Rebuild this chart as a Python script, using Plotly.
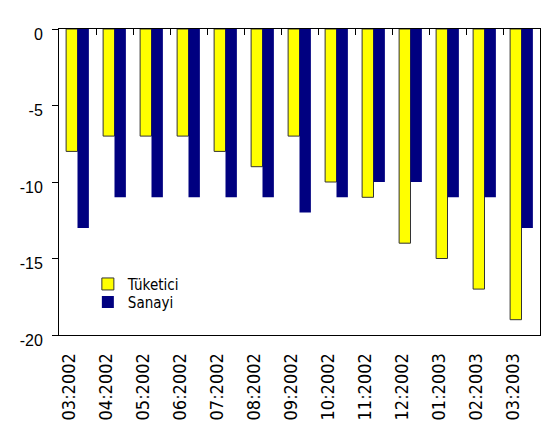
import plotly.graph_objects as go

categories = ["03:2002", "04:2002", "05:2002", "06:2002", "07:2002", "08:2002", "09:2002",
              "10:2002", "11:2002", "12:2002", "01:2003", "02:2003", "03:2003"]
tuketici = [-8, -7, -7, -7, -8, -9, -7, -10, -11, -14, -15, -17, -19]
sanayi = [-13, -11, -11, -11, -11, -11, -12, -11, -10, -10, -11, -11, -13]
y_ticks = [0, -5, -10, -15, -20]

label_font = "DejaVu Sans Condensed, Noto Sans, sans-serif"
legend_font = dict(family=label_font, size=15, color="black")

fig = go.Figure()
fig.add_trace(go.Bar(x=categories, y=tuketici, name="Tüketici", legend="legend",
                     marker=dict(color="#FFFF00", line=dict(color="#333333", width=1))))
fig.add_trace(go.Bar(x=categories, y=sanayi, name="Sanayi", legend="legend2",
                     marker=dict(color="#000080", line=dict(color="#000080", width=0))))
# invisible helper trace for the category tick marks along the zero line
fig.add_trace(go.Scatter(x=categories, y=[-10] * len(categories), xaxis="x2", mode="markers",
                         marker=dict(opacity=0), showlegend=False, hoverinfo="skip"))

fig.update_layout(
    width=542, height=423,
    margin=dict(l=59, r=2, t=29, b=88, autoexpand=False),
    paper_bgcolor="white", plot_bgcolor="white",
    barmode="group", bargap=0.385, bargroupgap=0,
    showlegend=True,
    legend=dict(x=0.06, y=0.166, xanchor="left", yanchor="middle",
                bgcolor="rgba(0,0,0,0)", font=legend_font, itemwidth=30),
    legend2=dict(x=0.06, y=0.107, xanchor="left", yanchor="middle",
                 bgcolor="rgba(0,0,0,0)", font=legend_font, itemwidth=30),
    xaxis=dict(type="category", range=[-0.5, 12.5], showline=True, linecolor="black", linewidth=1,
               ticks="", showgrid=False, tickangle=-90, ticklabelshift=-8, ticklabelstandoff=10,
               automargin=False,
               tickfont=dict(family=label_font, size=18, color="black")),
    xaxis2=dict(type="category", overlaying="x", side="top", range=[-0.5, 12.5],
                showline=True, linecolor="black", linewidth=1, ticks="inside", ticklen=6,
                tickcolor="black", tickson="boundaries", showticklabels=False, showgrid=False,
                automargin=False),
    yaxis=dict(range=[-20, 0], tickvals=y_ticks, ticktext=[str(v) for v in y_ticks],
               showline=True, linecolor="black", linewidth=1, mirror=True,
               ticks="outside", ticklen=6, tickcolor="black", showgrid=False, zeroline=False,
               ticklabelshift=5, ticklabelstandoff=6, automargin=False,
               tickfont=dict(family="Liberation Sans, Arial, sans-serif", size=16, color="black")),
)

fig.write_html("out.html", config={"displayModeBar": False},
               post_script="document.body.style.margin='0';document.body.style.padding='0';")
